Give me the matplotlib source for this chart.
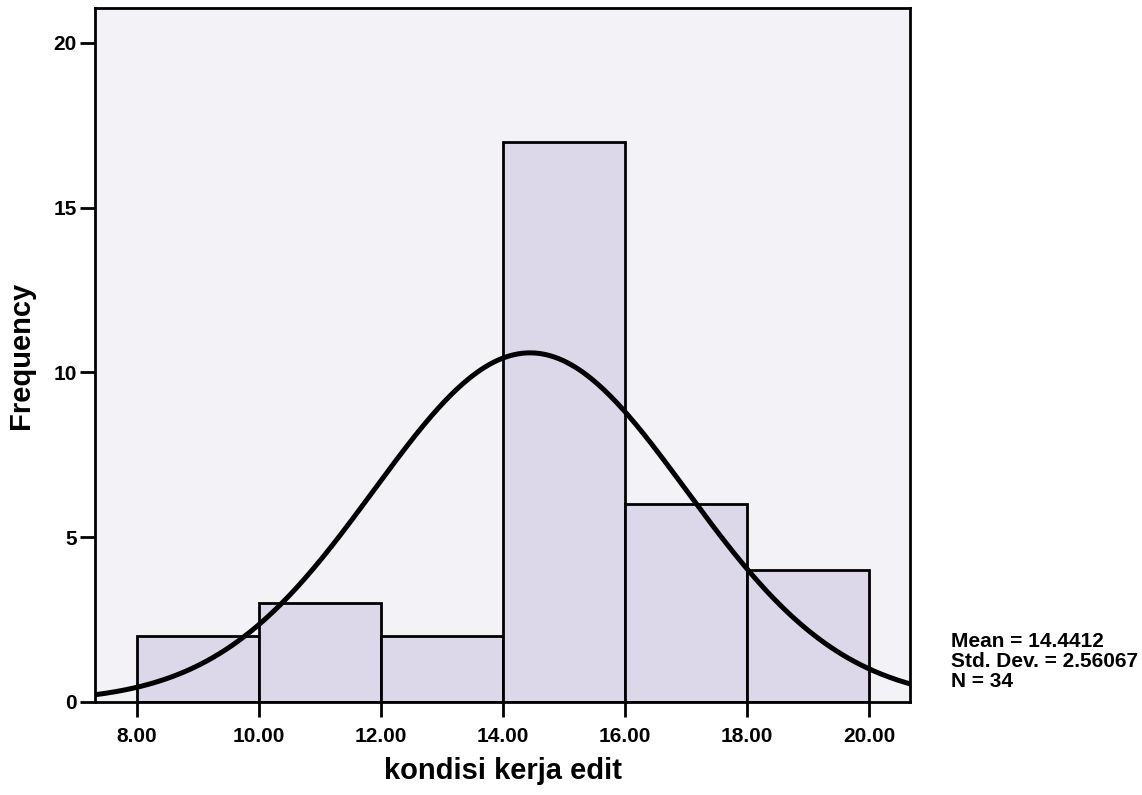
import numpy as np
import matplotlib.pyplot as plt

plt.rcParams['font.family'] = ['Liberation Sans', 'DejaVu Sans']

# histogram data
bin_edges = [8.0, 10.0, 12.0, 14.0, 16.0, 18.0, 20.0]
counts = [2, 3, 2, 17, 6, 4]
mean = 14.4412
std = 2.56067
n = 34
tick_values = [8.0, 10.0, 12.0, 14.0, 16.0, 18.0, 20.0]

fig = plt.figure(figsize=(11.42, 7.95), dpi=100)
ax = fig.add_axes([0.0832, 0.117, 0.7137, 0.873])
ax.set_facecolor('#f3f2f7')

widths = np.diff(bin_edges)
ax.bar(bin_edges[:-1], counts, width=widths, align='edge',
       color='#dcd8ea', edgecolor='black', linewidth=2)

# normal curve scaled to counts
xmin, xmax = 7.31, 20.67
xs = np.linspace(xmin, xmax, 400)
bw = widths[0]
ys = n * bw / (std * np.sqrt(2 * np.pi)) * np.exp(-0.5 * ((xs - mean) / std) ** 2)
ax.plot(xs, ys, color='black', linewidth=3.6, solid_capstyle='butt')

ax.set_xlim(xmin, xmax)
ax.set_ylim(0, 21.06)
ax.set_xticks(tick_values)
ax.set_xticklabels(['%.2f' % v for v in tick_values])
ax.set_yticks([0, 5, 10, 15, 20])
for s in ax.spines.values():
    s.set_linewidth(2)
ax.tick_params(axis='both', width=2, length=11, labelsize=15, direction='out')
ax.tick_params(axis='x', pad=7)
ax.tick_params(axis='y', pad=2)
for lab in ax.get_xticklabels() + ax.get_yticklabels():
    lab.set_fontweight('bold')

ax.set_xlabel('kondisi kerja edit', fontsize=21, fontweight='bold', labelpad=8)
ax.set_ylabel('Frequency', fontsize=21, fontweight='bold')
ax.yaxis.set_label_coords(-0.074, 0.5)

fig.text(0.833, 0.205, 'Mean = %.4f\nStd. Dev. = %.5f\nN = %d' % (mean, std, n),
         fontsize=15, fontweight='bold', va='top', ha='left', linespacing=1.05)

fig.savefig('out.png', dpi=100)
